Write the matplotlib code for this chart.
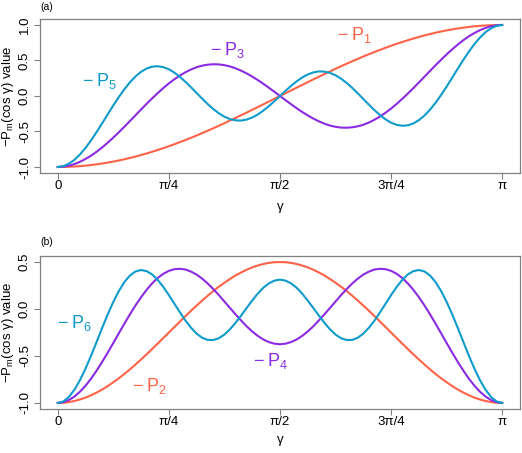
import numpy as np
import matplotlib
matplotlib.use("Agg")
import matplotlib.pyplot as plt

plt.rcParams["font.family"] = ["Liberation Sans", "DejaVu Sans"]
plt.rcParams["mathtext.default"] = "regular"

# gamma sampled every 2.25 degrees, 0..180 (81 samples)
gamma_deg = np.linspace(0, 180, 81)

# -P_m(cos gamma) values
p1 = [-1.000, -0.999, -0.997, -0.993, -0.988, -0.981, -0.972, -0.962, -0.951, -0.938,
      -0.924, -0.908, -0.891, -0.872, -0.853, -0.831, -0.809, -0.785, -0.760, -0.734,
      -0.707, -0.679, -0.649, -0.619, -0.588, -0.556, -0.522, -0.489, -0.454, -0.419,
      -0.383, -0.346, -0.309, -0.271, -0.233, -0.195, -0.156, -0.118, -0.078, -0.039,
      0.000,
      0.039, 0.078, 0.118, 0.156, 0.195, 0.233, 0.271, 0.309, 0.346, 0.383,
      0.419, 0.454, 0.489, 0.522, 0.556, 0.588, 0.619, 0.649, 0.679, 0.707,
      0.734, 0.760, 0.785, 0.809, 0.831, 0.853, 0.872, 0.891, 0.908, 0.924,
      0.938, 0.951, 0.962, 0.972, 0.981, 0.988, 0.993, 0.997, 0.999, 1.000]
p3 = [-1.000, -0.995, -0.982, -0.959, -0.927, -0.887, -0.840, -0.785, -0.724, -0.657,
      -0.586, -0.510, -0.432, -0.352, -0.271, -0.190, -0.110, -0.033, 0.041, 0.112,
      0.177, 0.236, 0.289, 0.335, 0.374, 0.405, 0.427, 0.441, 0.447, 0.445,
      0.434, 0.416, 0.390, 0.357, 0.318, 0.274, 0.225, 0.172, 0.116, 0.059,
      0.000,
      -0.059, -0.116, -0.172, -0.225, -0.274, -0.318, -0.357, -0.390, -0.416, -0.434,
      -0.445, -0.447, -0.441, -0.427, -0.405, -0.374, -0.335, -0.289, -0.236, -0.177,
      -0.112, -0.041, 0.033, 0.110, 0.190, 0.271, 0.352, 0.432, 0.510, 0.586,
      0.657, 0.724, 0.785, 0.840, 0.887, 0.927, 0.959, 0.982, 0.995, 1.000]
p5 = [-1.000, -0.988, -0.954, -0.899, -0.823, -0.731, -0.624, -0.507, -0.384, -0.257,
      -0.133, -0.014, 0.096, 0.194, 0.276, 0.341, 0.387, 0.413, 0.419, 0.406,
      0.376, 0.329, 0.269, 0.199, 0.122, 0.042, -0.038, -0.115, -0.184, -0.244,
      -0.292, -0.325, -0.343, -0.346, -0.332, -0.303, -0.261, -0.206, -0.143, -0.073,
      0.000,
      0.073, 0.143, 0.206, 0.261, 0.303, 0.332, 0.346, 0.343, 0.325, 0.292,
      0.244, 0.184, 0.115, 0.038, -0.042, -0.122, -0.199, -0.269, -0.329, -0.376,
      -0.406, -0.419, -0.413, -0.387, -0.341, -0.276, -0.194, -0.096, 0.014, 0.133,
      0.257, 0.384, 0.507, 0.624, 0.731, 0.823, 0.899, 0.954, 0.988, 1.000]
p2 = [-1.000, -0.998, -0.991, -0.979, -0.963, -0.943, -0.918, -0.889, -0.857, -0.820,
      -0.780, -0.737, -0.691, -0.642, -0.590, -0.537, -0.482, -0.425, -0.367, -0.309,
      -0.250, -0.191, -0.133, -0.075, -0.018, 0.037, 0.090, 0.142, 0.191, 0.237,
      0.280, 0.320, 0.357, 0.389, 0.418, 0.443, 0.463, 0.479, 0.491, 0.498,
      0.500,
      0.498, 0.491, 0.479, 0.463, 0.443, 0.418, 0.389, 0.357, 0.320, 0.280,
      0.237, 0.191, 0.142, 0.090, 0.037, -0.018, -0.075, -0.133, -0.191, -0.250,
      -0.309, -0.367, -0.425, -0.482, -0.537, -0.590, -0.642, -0.691, -0.737, -0.780,
      -0.820, -0.857, -0.889, -0.918, -0.943, -0.963, -0.979, -0.991, -0.998, -1.000]
p4 = [-1.000, -0.992, -0.969, -0.932, -0.880, -0.816, -0.741, -0.655, -0.562, -0.464,
      -0.362, -0.258, -0.155, -0.056, 0.039, 0.126, 0.205, 0.274, 0.331, 0.375,
      0.406, 0.424, 0.428, 0.420, 0.398, 0.366, 0.323, 0.271, 0.212, 0.148,
      0.080, 0.011, -0.057, -0.122, -0.184, -0.239, -0.286, -0.324, -0.352, -0.369,
      -0.375,
      -0.369, -0.352, -0.324, -0.286, -0.239, -0.184, -0.122, -0.057, 0.011, 0.080,
      0.148, 0.212, 0.271, 0.323, 0.366, 0.398, 0.420, 0.428, 0.424, 0.406,
      0.375, 0.331, 0.274, 0.205, 0.126, 0.039, -0.056, -0.155, -0.258, -0.362,
      -0.464, -0.562, -0.655, -0.741, -0.816, -0.880, -0.932, -0.969, -0.992, -1.000]
p6 = [-1.000, -0.984, -0.936, -0.859, -0.757, -0.634, -0.496, -0.349, -0.200, -0.056,
      0.076, 0.192, 0.287, 0.357, 0.400, 0.415, 0.403, 0.367, 0.309, 0.235,
      0.148, 0.056, -0.036, -0.124, -0.200, -0.262, -0.306, -0.329, -0.330, -0.311,
      -0.272, -0.216, -0.147, -0.070, 0.011, 0.090, 0.164, 0.226, 0.273, 0.302,
      0.313,
      0.302, 0.273, 0.226, 0.164, 0.090, 0.011, -0.070, -0.147, -0.216, -0.272,
      -0.311, -0.330, -0.329, -0.306, -0.262, -0.200, -0.124, -0.036, 0.056, 0.148,
      0.235, 0.309, 0.367, 0.403, 0.415, 0.400, 0.357, 0.287, 0.192, 0.076,
      -0.056, -0.200, -0.349, -0.496, -0.634, -0.757, -0.859, -0.936, -0.984, -1.000]

xtick_pos = [0, np.pi / 4, np.pi / 2, 3 * np.pi / 4, np.pi]
xtick_labels = ["0", "\u03c0/4", "\u03c0/2", "3\u03c0/4", "\u03c0"]

c_red = "#FF6347"
c_purple = "#8A2BE2"
c_blue = "#0E9BCB"
gray = "#808080"

x = np.deg2rad(gamma_deg)

fig = plt.figure(figsize=(5.22, 4.53), dpi=100)
ax1 = fig.add_axes([0.0766, 0.6188, 0.9195, 0.3386])
ax2 = fig.add_axes([0.0766, 0.098, 0.9195, 0.336])


def style(ax, ylim, yticks, xlab_y):
    ax.set_xlim(-0.04 * np.pi, 1.04 * np.pi)
    ax.set_ylim(*ylim)
    ax.set_xticks(xtick_pos)
    ax.set_xticklabels(xtick_labels)
    ax.set_yticks(yticks)
    ax.set_yticklabels(["%.1f" % v for v in yticks])
    for s in ax.spines.values():
        s.set_color(gray)
        s.set_linewidth(0.9)
    ax.tick_params(axis="both", direction="out", length=4, width=0.8,
                   color=gray, labelsize=9.5, labelcolor="black")
    ax.tick_params(axis="x", pad=1)
    ax.tick_params(axis="y", pad=2.5, labelrotation=90)
    for lab in ax.get_yticklabels():
        lab.set_va("center")
    ax.set_xlabel("\u03b3", fontsize=9.5)
    ax.xaxis.set_label_coords(0.5, xlab_y)
    ax.set_ylabel("\u2212P$_m$(cos \u03b3) value", fontsize=9.5)
    ax.yaxis.set_label_coords(-0.05, 0.5)


def label(ax, xpos, ypos, m, color):
    ax.text(xpos, ypos, "\u2212\u2009P$_%d$" % m, color=color, fontsize=13,
            ha="center", va="baseline")


lw = 1.5
ax1.plot(x, p1, color=c_red, lw=lw)
ax1.plot(x, p3, color=c_purple, lw=lw)
ax1.plot(x, p5, color=c_blue, lw=lw)
style(ax1, (-1.08, 1.08), [-1.0, -0.5, 0.0, 0.5, 1.0], -0.184)
label(ax1, 0.297, 0.14, 5, c_blue)
label(ax1, 1.196, 0.577, 3, c_purple)
label(ax1, 2.094, 0.789, 1, c_red)

ax2.plot(x, p2, color=c_red, lw=lw)
ax2.plot(x, p4, color=c_purple, lw=lw)
ax2.plot(x, p6, color=c_blue, lw=lw)
style(ax2, (-1.06, 0.56), [-1.0, -0.5, 0.0, 0.5], -0.169)
label(ax2, 0.120, -0.202, 6, c_blue)
label(ax2, 0.651, -0.872, 2, c_red)
label(ax2, 1.500, -0.606, 4, c_purple)

fig.text(46.5 / 522, 1 - 6.5 / 453, "(a)", fontsize=7.5, ha="center", va="center")
fig.text(46.5 / 522, 1 - 242 / 453, "(b)", fontsize=7.5, ha="center", va="center")

fig.savefig("out.png", dpi=100)
